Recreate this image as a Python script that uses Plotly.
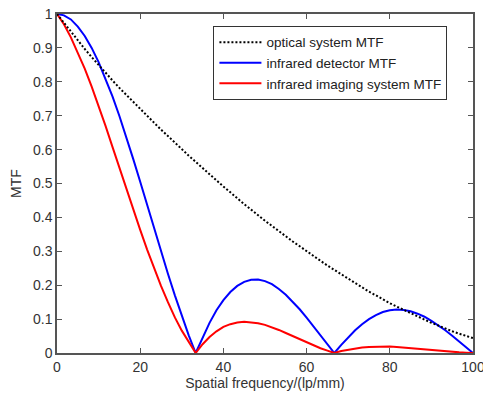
import numpy as np
import plotly.graph_objects as go

# sampling grid of spatial frequency (lp/mm), 61 samples from 0 to 100
freq = np.linspace(0, 100, 61)

optical_mtf = [1.000, 0.974, 0.947, 0.921, 0.897, 0.873, 0.849, 0.827, 0.804, 0.782,
               0.761, 0.740, 0.719, 0.699, 0.679, 0.659, 0.640, 0.620, 0.601, 0.582,
               0.564, 0.545, 0.527, 0.509, 0.491, 0.474, 0.456, 0.439, 0.423, 0.406,
               0.390, 0.375, 0.359, 0.344, 0.329, 0.315, 0.300, 0.286, 0.272, 0.258,
               0.245, 0.231, 0.218, 0.206, 0.193, 0.181, 0.170, 0.158, 0.147, 0.137,
               0.127, 0.117, 0.108, 0.098, 0.089, 0.081, 0.072, 0.064, 0.057, 0.051,
               0.044]

detector_mtf = [1.000, 0.996, 0.984, 0.963, 0.935, 0.900, 0.858, 0.810, 0.757, 0.699,
                0.637, 0.572, 0.505, 0.436, 0.368, 0.300, 0.234, 0.170, 0.109, 0.052,
                0.000, 0.047, 0.089, 0.126, 0.156, 0.180, 0.198, 0.210, 0.216, 0.217,
                0.212, 0.203, 0.189, 0.172, 0.151, 0.129, 0.104, 0.078, 0.052, 0.026,
                0.000, 0.024, 0.047, 0.067, 0.085, 0.100, 0.112, 0.121, 0.126, 0.128,
                0.127, 0.123, 0.116, 0.107, 0.095, 0.082, 0.067, 0.051, 0.034, 0.017,
                0.000]

system_mtf = [1.000, 0.970, 0.931, 0.887, 0.839, 0.786, 0.729, 0.670, 0.608, 0.546,
              0.484, 0.423, 0.363, 0.305, 0.250, 0.198, 0.150, 0.105, 0.066, 0.031,
              0.000, 0.026, 0.047, 0.064, 0.077, 0.085, 0.090, 0.092, 0.091, 0.088,
              0.083, 0.076, 0.068, 0.059, 0.050, 0.041, 0.031, 0.022, 0.014, 0.007,
              0.000, 0.006, 0.010, 0.014, 0.016, 0.018, 0.019, 0.019, 0.019, 0.018,
              0.016, 0.014, 0.013, 0.010, 0.008, 0.007, 0.005, 0.003, 0.002, 0.001,
              0.000]

series_names = ["optical system MTF", "infrared detector MTF", "infrared imaging system MTF"]
x_ticks = [0, 20, 40, 60, 80, 100]
y_ticks = [0, 0.1, 0.2, 0.3, 0.4, 0.5, 0.6, 0.7, 0.8, 0.9, 1]
y_tick_text = ["0", "0.1", "0.2", "0.3", "0.4", "0.5", "0.6", "0.7", "0.8", "0.9", "1"]

FONT = "Liberation Sans, Arial, sans-serif"
FS = 14

fig = go.Figure()
fig.add_trace(go.Scatter(x=freq, y=detector_mtf, mode="lines", name=series_names[1],
                         line=dict(color="#0000ff", width=2), legendrank=2))
fig.add_trace(go.Scatter(x=freq, y=system_mtf, mode="lines", name=series_names[2],
                         line=dict(color="#ff0000", width=2), legendrank=3))
fig.add_trace(go.Scatter(x=freq, y=optical_mtf, mode="lines", name=series_names[0],
                         line=dict(color="#000000", width=2, dash="2px,2px"), legendrank=1))

axis_common = dict(
    showline=True, linecolor="#555555", linewidth=1.5, mirror="ticks",
    ticks="inside", ticklen=5, tickwidth=1, tickcolor="#555555",
    showgrid=False, zeroline=False, automargin=False, ticklabeloverflow="allow",
    tickfont=dict(family=FONT, size=FS, color="#333333"),
)

fig.update_xaxes(range=[0, 100], tickvals=x_ticks, ticktext=[str(v) for v in x_ticks],
                 title=dict(text="Spatial frequency/(lp/mm)", standoff=2,
                            font=dict(family=FONT, size=FS, color="#333333")),
                 **axis_common)
fig.update_yaxes(range=[0, 1], tickvals=y_ticks, ticktext=y_tick_text,
                 title=dict(text="MTF", standoff=8,
                            font=dict(family=FONT, size=FS, color="#333333")),
                 **axis_common)

fig.update_layout(
    width=483, height=394,
    margin=dict(l=57, r=10, t=14, b=41, autoexpand=False),
    paper_bgcolor="white", plot_bgcolor="white",
    font=dict(family=FONT, size=FS, color="#222222"),
    legend=dict(x=0.376, y=0.965, xanchor="left", yanchor="top",
                bgcolor="white", bordercolor="#333333", borderwidth=1,
                font=dict(family=FONT, size=13.5, color="#222222"),
                itemwidth=42, tracegroupgap=0),
    showlegend=True,
)

fig.write_html("out.html", config={"displayModeBar": False},
               post_script="document.body.style.margin='0px';document.body.style.overflow='hidden';")
